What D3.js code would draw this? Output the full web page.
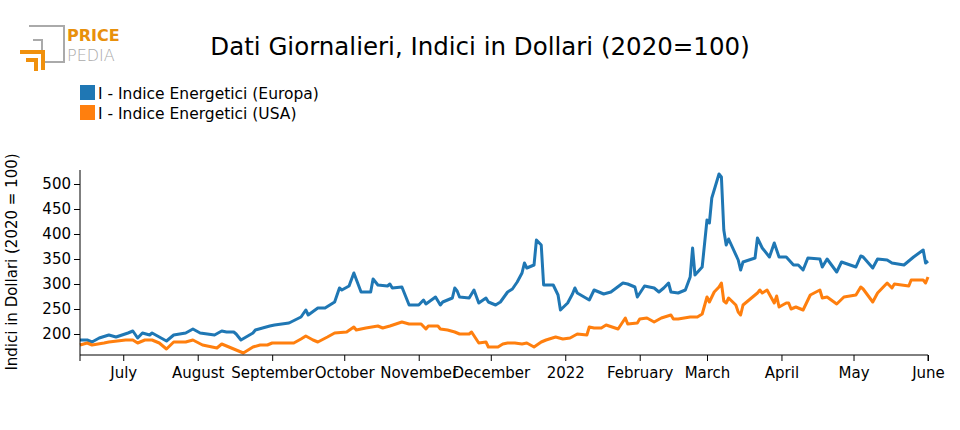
<!DOCTYPE html>
<html><head><meta charset="utf-8">
<script src="https://cdn.jsdelivr.net/npm/d3@7"></script>
<style>body{margin:0;background:#fff}svg{font-family:"DejaVu Sans",sans-serif}</style>
</head><body><svg id="c" width="960" height="430"></svg>
<script>
const startDate = "2021-06-13";
const endDate = "2022-06-01";
const yTicks = [200,250,300,350,400,450,500];
const seriesNames = ["I - Indice Energetici (Europa)","I - Indice Energetici (USA)"];
// day offsets from startDate, values
const euDays = [0,3,5,8,12,15,20,22,24,26,29,30,33,36,39,44,47,50,53,56,59,61,64,65,67,72,73,76,79,81,87,92,94,95,99,102,106,108,109,112,114,117,121,122,124,128,129,130,134,137,141,143,144,148,150,151,155,156,157,158,162,164,166,169,170,173,175,178,180,182,184,185,186,189,190,192,193,197,199,200,203,205,206,207,212,214,218,221,226,228,231,232,235,239,241,243,245,246,249,252,254,255,256,259,261,262,263,266,267,268,269,270,274,275,276,281,282,284,287,289,291,294,297,299,301,303,308,309,311,315,317,323,325,326,330,332,336,338,343,347,351,352,353];
const euVals = [188,188,184,192,198,194,202,206,192,202,198,202,194,186,198,202,210,202,200,198,206,204,204,200,188,202,208,212,216,218,222,234,248,238,252,252,264,292,288,296,322,284,284,310,298,296,300,292,294,258,258,268,260,274,258,264,272,292,286,274,272,288,262,272,264,258,264,284,290,304,322,342,332,338,388,378,298,298,278,248,262,280,292,282,268,288,280,284,302,300,294,274,296,292,284,292,302,284,282,288,314,372,318,334,428,422,472,520,514,408,378,390,348,328,344,352,392,372,354,382,354,354,338,338,328,352,350,334,350,324,344,334,356,354,332,350,348,342,338,354,368,342,346];
const usDays = [0,3,5,10,12,19,22,24,27,30,33,36,39,44,47,51,57,59,62,68,72,75,78,80,85,89,92,94,97,99,103,106,111,114,115,119,124,126,129,134,137,142,144,145,149,150,153,156,158,162,163,166,169,170,174,176,178,181,184,186,189,192,194,198,201,204,207,211,212,214,217,219,224,227,228,232,233,236,239,242,246,247,249,254,257,259,261,262,264,266,267,268,269,270,273,274,275,276,280,282,283,284,286,289,290,291,294,295,296,298,301,304,308,309,311,315,318,323,325,326,330,332,334,336,338,339,345,346,351,352,353];
const usVals = [178,182,178,182,184,188,188,182,188,188,182,170,184,184,188,178,172,180,174,162,174,178,178,182,182,182,190,196,188,184,194,202,204,214,208,212,216,212,216,224,220,220,210,216,216,210,208,204,200,200,204,182,184,174,174,180,182,182,180,182,174,184,188,194,190,192,200,198,214,212,212,218,210,232,220,222,230,232,224,232,238,230,230,234,234,240,274,264,284,294,302,266,262,272,258,244,238,258,274,282,288,282,288,262,276,254,262,262,250,254,248,278,288,272,274,260,274,278,294,290,264,282,292,302,292,300,296,308,308,302,314];

const svg = d3.select("#c");
const parse = d3.timeParse("%Y-%m-%d");
const t0 = parse(startDate), t1 = parse(endDate);
const x = d3.scaleTime().domain([t0,t1]).range([80,928]);
const y = d3.scaleLinear().domain([158,528]).range([355,170]);
const colors = ["#1f77b4","#ff7f0e"];

const mk = (days, vals) => days.map((d,i)=>({t:d3.timeDay.offset(t0,d), v:vals[i]}));
const series = [mk(euDays,euVals), mk(usDays,usVals)];

const line = d3.line().x(d=>x(d.t)).y(d=>y(d.v));
series.forEach((s,i)=>svg.append("path").datum(s).attr("d",line).attr("fill","none")
  .attr("stroke",colors[i]).attr("stroke-width",3).attr("stroke-linejoin","round"));

const fmt = d => d.getMonth()===0 ? d3.timeFormat("%Y")(d) : d3.timeFormat("%B")(d);
const xa = svg.append("g").attr("transform","translate(0,355)")
  .call(d3.axisBottom(x).ticks(d3.timeMonth.every(1)).tickFormat(fmt).tickSizeOuter(6));
const ya = svg.append("g").attr("transform","translate(80,0)")
  .call(d3.axisLeft(y).tickValues(yTicks).tickSizeOuter(0));
[xa,ya].forEach(a=>{a.selectAll("text").attr("font-size",15).attr("font-family","DejaVu Sans").attr("fill","#000");
  a.selectAll("line,path").attr("stroke","#000");});
xa.selectAll("text").attr("dy","0.9em");
ya.select(".domain").attr("d","M0,170V355");
xa.select(".domain").attr("d","M80,6V0H928V6");

svg.append("text").attr("transform","translate(17,262) rotate(-90)").attr("text-anchor","middle")
  .attr("font-size",15).text("Indici in Dollari (2020 = 100)");
svg.append("text").attr("x",480).attr("y",55).attr("text-anchor","middle").attr("font-size",24.5)
  .text("Dati Giornalieri, Indici in Dollari (2020=100)");
seriesNames.forEach((n,i)=>{
  svg.append("rect").attr("x",80).attr("y",85+i*20).attr("width",15).attr("height",15).attr("fill",colors[i]);
  svg.append("text").attr("x",98).attr("y",99+i*20).attr("font-size",15.5).text(n);
});
// logo
const g = svg.append("g");
g.append("path").attr("d","M29,26H64V62H42V40H33").attr("fill","none").attr("stroke","#aaa").attr("stroke-width",2);
g.append("path").attr("d","M20,52H43V70M26,60H36V71").attr("fill","none").attr("stroke","#f0900c").attr("stroke-width",4);
g.append("text").attr("x",67).attr("y",41).attr("font-size",16).attr("font-weight","bold").attr("fill","#e8900c").text("PRICE");
g.append("text").attr("x",67).attr("y",61).attr("font-size",16).attr("font-weight","200").attr("fill","#aaa").text("PEDIA");
</script></body></html>
